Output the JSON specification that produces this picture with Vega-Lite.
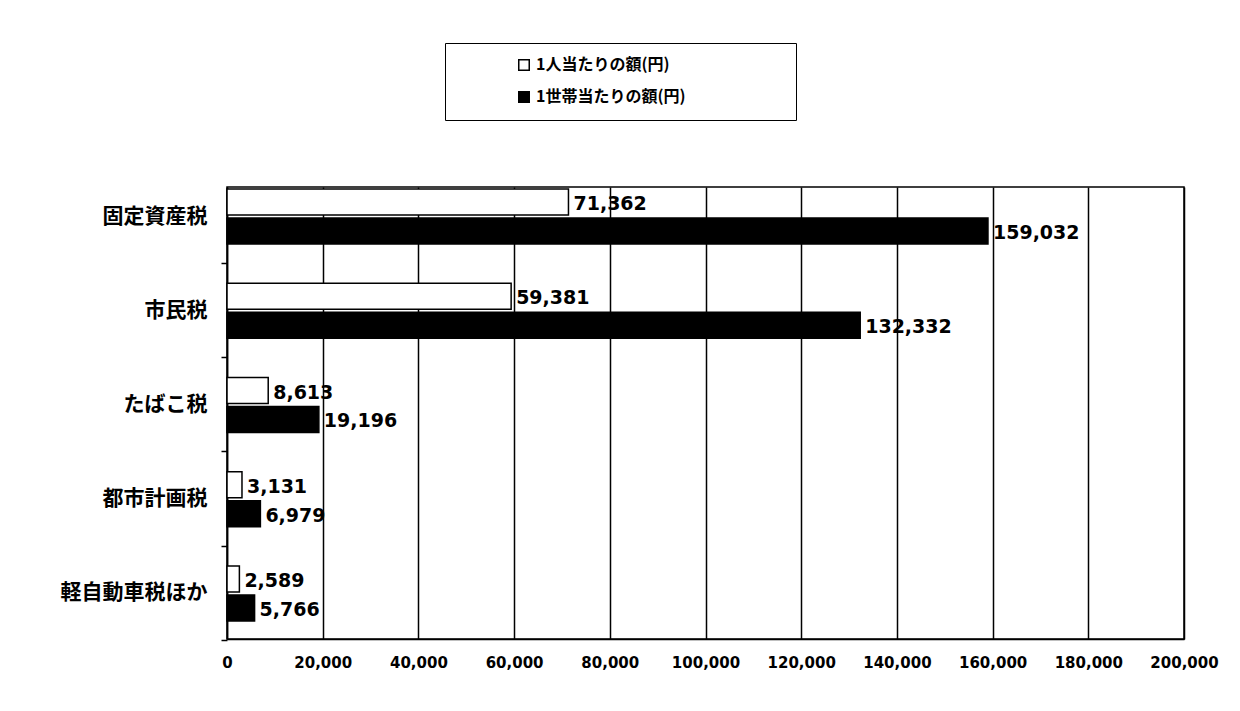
{
  "$schema": "https://vega.github.io/schema/vega-lite/v6.json",
  "width": 957,
  "height": 452,
  "autosize": "none",
  "padding": {"left": 227, "top": 187, "right": 56, "bottom": 72},
  "background": "white",
  "data": {
    "values": [
      {"tax": "固定資産税", "series": "1人当たりの額(円)", "value": 71362},
      {"tax": "固定資産税", "series": "1世帯当たりの額(円)", "value": 159032},
      {"tax": "市民税", "series": "1人当たりの額(円)", "value": 59381},
      {"tax": "市民税", "series": "1世帯当たりの額(円)", "value": 132332},
      {"tax": "たばこ税", "series": "1人当たりの額(円)", "value": 8613},
      {"tax": "たばこ税", "series": "1世帯当たりの額(円)", "value": 19196},
      {"tax": "都市計画税", "series": "1人当たりの額(円)", "value": 3131},
      {"tax": "都市計画税", "series": "1世帯当たりの額(円)", "value": 6979},
      {"tax": "軽自動車税ほか", "series": "1人当たりの額(円)", "value": 2589},
      {"tax": "軽自動車税ほか", "series": "1世帯当たりの額(円)", "value": 5766}
    ]
  },
  "encoding": {
    "y": {
      "field": "tax",
      "type": "nominal",
      "sort": ["固定資産税", "市民税", "たばこ税", "都市計画税", "軽自動車税ほか"],
      "scale": {"paddingInner": 0.416, "paddingOuter": 0.106, "align": 0.1},
      "axis": {
        "title": null,
        "grid": false,
        "domainColor": "black",
        "domainWidth": 1.5,
        "tickColor": "black",
        "tickWidth": 1.5,
        "tickSize": 6,
        "bandPosition": 1.35,
        "labelPadding": 14,
        "labelFont": "Noto Sans CJK JP",
        "labelFontSize": 21,
        "labelFontWeight": "bold",
        "labelColor": "black"
      }
    },
    "yOffset": {
      "field": "series",
      "type": "nominal",
      "sort": ["1人当たりの額(円)", "1世帯当たりの額(円)"],
      "scale": {"paddingInner": 0.1, "paddingOuter": 0}
    },
    "x": {
      "field": "value",
      "type": "quantitative",
      "scale": {"domain": [0, 200000], "nice": false},
      "axis": {
        "title": null,
        "values": [0, 20000, 40000, 60000, 80000, 100000, 120000, 140000, 160000, 180000, 200000],
        "format": ",d",
        "grid": true,
        "gridColor": "black",
        "gridWidth": 1.5,
        "gridOpacity": 1,
        "ticks": false,
        "domainColor": "black",
        "domainWidth": 1.5,
        "labelPadding": 16,
        "labelFlush": false,
        "labelFont": "DejaVu Sans",
        "labelFontSize": 15,
        "labelFontWeight": "bold",
        "labelColor": "black"
      }
    }
  },
  "layer": [
    {
      "mark": {"type": "bar", "stroke": "black", "strokeWidth": 1.5},
      "encoding": {
        "fill": {
          "field": "series",
          "type": "nominal",
          "scale": {
            "domain": ["1人当たりの額(円)", "1世帯当たりの額(円)"],
            "range": ["white", "black"]
          },
          "legend": {
            "title": null,
            "orient": "none",
            "legendX": 218,
            "legendY": -144,
            "strokeColor": "black",
            "padding": 14,
            "rowPadding": 14,
            "symbolType": "square",
            "symbolSize": 110,
            "symbolStrokeColor": "black",
            "symbolStrokeWidth": 1.5,
            "symbolOffset": 57,
            "labelOffset": 4,
            "labelFont": "Noto Sans CJK JP",
            "labelFontSize": 16,
            "labelFontWeight": "bold",
            "labelColor": "black",
            "labelLimit": 600,
            "labelExpr": "datum.label + '\u3000\u3000\u3000\u3000\u3000\u3000\u200b'"
          }
        }
      }
    },
    {
      "mark": {
        "type": "text",
        "align": "left",
        "baseline": "middle",
        "dx": 5,
        "dy": 2,
        "font": "DejaVu Sans",
        "fontWeight": "bold",
        "fontSize": 19,
        "color": "black"
      },
      "encoding": {
        "text": {"field": "value", "type": "quantitative", "format": ","}
      }
    }
  ],
  "config": {"view": {"stroke": "black", "strokeWidth": 1.5}}
}
